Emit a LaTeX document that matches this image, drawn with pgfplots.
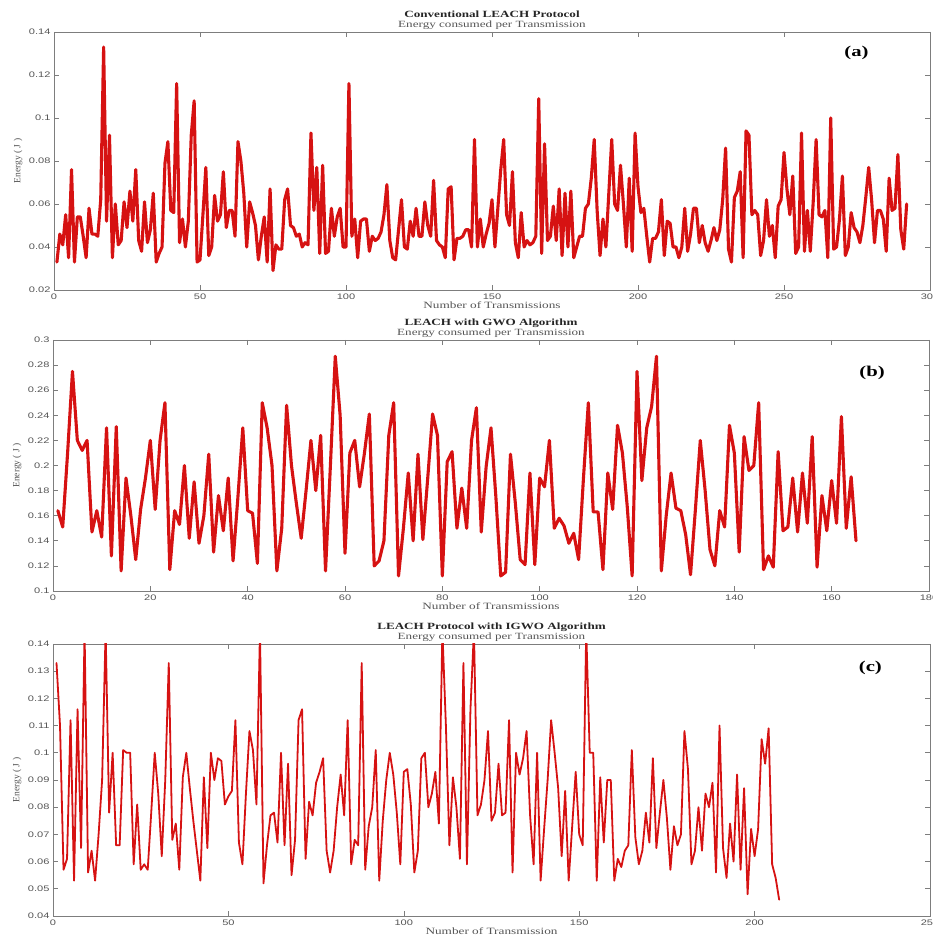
\documentclass[border=0pt]{standalone}
\usepackage{pgfplots}
\pgfplotsset{compat=1.18}
\usepackage{fontspec}
\setmainfont[FakeStretch=1.38]{Liberation Serif}
\newfontfamily\ticksf[FakeStretch=1.38]{Liberation Sans}
\newfontfamily\ylabfont{Liberation Serif}
\definecolor{matred}{RGB}{214,18,18}
\definecolor{axgray}{RGB}{125,125,125}
\definecolor{labgray}{RGB}{85,85,85}
\pgfplotsset{
  panel/.style={
    scale only axis,
    anchor=south west,
    axis line style={axgray, line width=0.7pt},
    tick style={axgray, line width=0.6pt},
    major tick length=5pt,
    tick align=inside,
    /pgf/number format/assume math mode=true,
    ticklabel style={font=\ticksf\fontsize{8}{9}\selectfont, text=labgray},
    xticklabel style={yshift=-0.5pt},
    scaled y ticks=false,
    yticklabel style={/pgf/number format/fixed, /pgf/number format/precision=2},
    title style={at={(0.5,1)}, anchor=south, align=center, yshift=-5pt, inner sep=1pt,
                 font=\fontsize{9.5}{10.5}\selectfont, text=black!85},
    xlabel style={at={(axis description cs:0.5,0)}, anchor=center, yshift=-15pt, inner sep=0pt,
                  font=\fontsize{9.6}{11}\selectfont, text=labgray},
    ylabel style={at={(axis description cs:-0.041,0.5)}, anchor=center, inner sep=0pt,
                  font=\ylabfont\fontsize{9.5}{10}\selectfont, text=labgray},
    ylabel={Energy ( J )},
  },
  series/.style={matred, line join=round, line cap=round, mark=none},
}
\begin{document}
\begin{tikzpicture}
\useasboundingbox (0,0) rectangle (933pt,939pt);
% ---------------- (a)
\begin{axis}[panel, at={(54pt,649pt)}, width=876pt, height=258pt,
  xmin=0, xmax=300, ymin=0.02, ymax=0.14,
  xtick={0,50,...,300}, ytick={0.02,0.04,...,0.141},
  title={\textbf{Conventional LEACH Protocol}\\{\color{labgray}Energy consumed per Transmission}},
  xlabel={Number of Transmissions}]
\addplot[series, line width=3.1pt] coordinates {
(1,0.033)(2,0.046)(3,0.041)(4,0.055)(5,0.035)(6,0.076)(7,0.033)(8,0.054)(9,0.054)(10,0.045)
(11,0.035)(12,0.058)(13,0.046)(14,0.046)(15,0.045)(16,0.062)(17,0.133)(18,0.052)(19,0.092)(20,0.035)
(21,0.060)(22,0.041)(23,0.043)(24,0.061)(25,0.049)(26,0.066)(27,0.052)(28,0.076)(29,0.043)(30,0.038)
(31,0.061)(32,0.042)(33,0.048)(34,0.065)(35,0.033)(36,0.037)(37,0.040)(38,0.079)(39,0.089)(40,0.057)
(41,0.056)(42,0.116)(43,0.042)(44,0.053)(45,0.040)(46,0.052)(47,0.092)(48,0.108)(49,0.033)(50,0.034)
(51,0.055)(52,0.077)(53,0.036)(54,0.040)(55,0.064)(56,0.052)(57,0.055)(58,0.075)(59,0.049)(60,0.057)
(61,0.057)(62,0.045)(63,0.089)(64,0.080)(65,0.065)(66,0.040)(67,0.061)(68,0.056)(69,0.050)(70,0.034)
(71,0.045)(72,0.054)(73,0.033)(74,0.067)(75,0.029)(76,0.041)(77,0.039)(78,0.039)(79,0.062)(80,0.067)
(81,0.050)(82,0.049)(83,0.045)(84,0.046)(85,0.040)(86,0.042)(87,0.041)(88,0.093)(89,0.057)(90,0.077)
(91,0.037)(92,0.078)(93,0.037)(94,0.038)(95,0.058)(96,0.045)(97,0.054)(98,0.058)(99,0.040)(100,0.040)
(101,0.116)(102,0.045)(103,0.053)(104,0.035)(105,0.052)(106,0.053)(107,0.053)(108,0.038)(109,0.045)(110,0.043)
(111,0.044)(112,0.047)(113,0.055)(114,0.069)(115,0.043)(116,0.035)(117,0.034)(118,0.048)(119,0.062)(120,0.040)
(121,0.039)(122,0.052)(123,0.045)(124,0.058)(125,0.045)(126,0.045)(127,0.061)(128,0.050)(129,0.045)(130,0.071)
(131,0.043)(132,0.041)(133,0.040)(134,0.035)(135,0.067)(136,0.068)(137,0.034)(138,0.044)(139,0.044)(140,0.045)
(141,0.048)(142,0.048)(143,0.040)(144,0.090)(145,0.040)(146,0.053)(147,0.040)(148,0.046)(149,0.051)(150,0.062)
(151,0.040)(152,0.058)(153,0.076)(154,0.090)(155,0.055)(156,0.050)(157,0.075)(158,0.042)(159,0.035)(160,0.056)
(161,0.040)(162,0.043)(163,0.041)(164,0.042)(165,0.045)(166,0.109)(167,0.037)(168,0.088)(169,0.043)(170,0.045)
(171,0.059)(172,0.043)(173,0.067)(174,0.036)(175,0.065)(176,0.040)(177,0.066)(178,0.035)(179,0.040)(180,0.045)
(181,0.045)(182,0.058)(183,0.060)(184,0.072)(185,0.090)(186,0.057)(187,0.036)(188,0.053)(189,0.040)(190,0.065)
(191,0.090)(192,0.060)(193,0.057)(194,0.078)(195,0.060)(196,0.040)(197,0.072)(198,0.038)(199,0.093)(200,0.068)
(201,0.056)(202,0.058)(203,0.045)(204,0.033)(205,0.044)(206,0.044)(207,0.047)(208,0.062)(209,0.036)(210,0.052)
(211,0.051)(212,0.040)(213,0.040)(214,0.035)(215,0.040)(216,0.058)(217,0.038)(218,0.046)(219,0.058)(220,0.058)
(221,0.042)(222,0.050)(223,0.042)(224,0.038)(225,0.043)(226,0.049)(227,0.043)(228,0.048)(229,0.062)(230,0.086)
(231,0.039)(232,0.033)(233,0.063)(234,0.066)(235,0.075)(236,0.035)(237,0.094)(238,0.092)(239,0.055)(240,0.057)
(241,0.055)(242,0.036)(243,0.043)(244,0.062)(245,0.045)(246,0.050)(247,0.035)(248,0.059)(249,0.062)(250,0.084)
(251,0.067)(252,0.055)(253,0.073)(254,0.037)(255,0.040)(256,0.093)(257,0.038)(258,0.057)(259,0.038)(260,0.061)
(261,0.090)(262,0.055)(263,0.054)(264,0.057)(265,0.035)(266,0.100)(267,0.039)(268,0.040)(269,0.053)(270,0.073)
(271,0.036)(272,0.040)(273,0.056)(274,0.049)(275,0.047)(276,0.042)(277,0.050)(278,0.063)(279,0.077)(280,0.062)
(281,0.042)(282,0.057)(283,0.057)(284,0.053)(285,0.038)(286,0.072)(287,0.057)(288,0.058)(289,0.083)(290,0.048)
(291,0.039)(292,0.060)
};
\node[font=\bfseries\fontsize{15}{15}\selectfont] at (rel axis cs:0.916,0.919) {(a)};
\end{axis}
% ---------------- (b)
\begin{axis}[panel, at={(53pt,348pt)}, width=876pt, height=251pt,
  xmin=0, xmax=180, ymin=0.1, ymax=0.3,
  xtick={0,20,...,180}, ytick={0.1,0.12,...,0.301},
  title={\textbf{LEACH with GWO Algorithm}\\{\color{labgray}Energy consumed per Transmission}},
  xlabel={Number of Transmissions}]
\addplot[series, line width=3.1pt] coordinates {
(1,0.164)(2,0.151)(3,0.21)(4,0.275)(5,0.22)(6,0.212)(7,0.22)(8,0.147)(9,0.164)(10,0.143)
(11,0.23)(12,0.128)(13,0.231)(14,0.116)(15,0.19)(16,0.16)(17,0.125)(18,0.165)(19,0.19)(20,0.22)
(21,0.165)(22,0.22)(23,0.25)(24,0.117)(25,0.164)(26,0.153)(27,0.2)(28,0.142)(29,0.187)(30,0.138)
(31,0.16)(32,0.209)(33,0.131)(34,0.176)(35,0.148)(36,0.19)(37,0.124)(38,0.175)(39,0.23)(40,0.164)
(41,0.162)(42,0.122)(43,0.25)(44,0.23)(45,0.2)(46,0.116)(47,0.15)(48,0.248)(49,0.2)(50,0.17)
(51,0.142)(52,0.18)(53,0.22)(54,0.18)(55,0.224)(56,0.116)(57,0.2)(58,0.287)(59,0.24)(60,0.13)
(61,0.21)(62,0.22)(63,0.183)(64,0.21)(65,0.241)(66,0.12)(67,0.124)(68,0.14)(69,0.224)(70,0.25)
(71,0.112)(72,0.15)(73,0.194)(74,0.14)(75,0.209)(76,0.141)(77,0.19)(78,0.241)(79,0.224)(80,0.112)
(81,0.203)(82,0.211)(83,0.15)(84,0.182)(85,0.15)(86,0.22)(87,0.246)(88,0.147)(89,0.199)(90,0.23)
(91,0.175)(92,0.112)(93,0.115)(94,0.209)(95,0.17)(96,0.125)(97,0.121)(98,0.194)(99,0.121)(100,0.19)
(101,0.183)(102,0.22)(103,0.15)(104,0.158)(105,0.152)(106,0.138)(107,0.146)(108,0.125)(109,0.19)(110,0.25)
(111,0.163)(112,0.163)(113,0.117)(114,0.194)(115,0.165)(116,0.232)(117,0.21)(118,0.167)(119,0.112)(120,0.275)
(121,0.188)(122,0.23)(123,0.247)(124,0.287)(125,0.116)(126,0.16)(127,0.194)(128,0.166)(129,0.164)(130,0.145)
(131,0.113)(132,0.165)(133,0.22)(134,0.18)(135,0.133)(136,0.12)(137,0.164)(138,0.151)(139,0.232)(140,0.21)
(141,0.131)(142,0.223)(143,0.196)(144,0.2)(145,0.25)(146,0.117)(147,0.128)(148,0.119)(149,0.211)(150,0.148)
(151,0.151)(152,0.19)(153,0.147)(154,0.194)(155,0.154)(156,0.223)(157,0.119)(158,0.176)(159,0.148)(160,0.188)
(161,0.154)(162,0.239)(163,0.15)(164,0.191)(165,0.14)
};
\node[font=\bfseries\fontsize{15}{15}\selectfont] at (rel axis cs:0.935,0.869) {(b)};
\end{axis}
% ---------------- (c)
\begin{axis}[panel, at={(53pt,23pt)}, width=877pt, height=272pt,
  xmin=0, xmax=250, ymin=0.04, ymax=0.14,
  xtick={0,50,...,250}, ytick={0.04,0.05,...,0.141},
  title={\textbf{LEACH Protocol with IGWO Algorithm}\\{\color{labgray}Energy consumed per Transmission}},
  xlabel={Number of Transmission}]
\addplot[series, line width=1.8pt] coordinates {
(1,0.133)(2,0.11)(3,0.057)(4,0.061)(5,0.112)(6,0.053)(7,0.116)(8,0.065)(9,0.145)(10,0.056)
(11,0.064)(12,0.053)(13,0.07)(14,0.09)(15,0.145)(16,0.078)(17,0.10)(18,0.066)(19,0.066)(20,0.101)
(21,0.1)(22,0.1)(23,0.059)(24,0.081)(25,0.057)(26,0.059)(27,0.057)(28,0.078)(29,0.1)(30,0.085)
(31,0.062)(32,0.09)(33,0.133)(34,0.068)(35,0.074)(36,0.057)(37,0.091)(38,0.1)(39,0.087)(40,0.075)
(41,0.064)(42,0.053)(43,0.091)(44,0.065)(45,0.1)(46,0.09)(47,0.098)(48,0.097)(49,0.081)(50,0.084)
(51,0.086)(52,0.112)(53,0.067)(54,0.059)(55,0.085)(56,0.108)(57,0.101)(58,0.081)(59,0.145)(60,0.052)
(61,0.066)(62,0.077)(63,0.078)(64,0.067)(65,0.1)(66,0.066)(67,0.096)(68,0.055)(69,0.068)(70,0.112)
(71,0.116)(72,0.061)(73,0.082)(74,0.077)(75,0.089)(76,0.093)(77,0.098)(78,0.064)(79,0.056)(80,0.064)
(81,0.08)(82,0.092)(83,0.077)(84,0.112)(85,0.059)(86,0.068)(87,0.066)(88,0.133)(89,0.057)(90,0.073)
(91,0.08)(92,0.101)(93,0.053)(94,0.075)(95,0.09)(96,0.1)(97,0.092)(98,0.078)(99,0.059)(100,0.093)
(101,0.094)(102,0.081)(103,0.056)(104,0.064)(105,0.098)(106,0.1)(107,0.08)(108,0.085)(109,0.093)(110,0.074)
(111,0.145)(112,0.11)(113,0.066)(114,0.091)(115,0.08)(116,0.061)(117,0.133)(118,0.059)(119,0.116)(120,0.145)
(121,0.077)(122,0.081)(123,0.09)(124,0.108)(125,0.075)(126,0.078)(127,0.096)(128,0.077)(129,0.078)(130,0.112)
(131,0.056)(132,0.1)(133,0.092)(134,0.098)(135,0.108)(136,0.077)(137,0.059)(138,0.1)(139,0.053)(140,0.072)
(141,0.09)(142,0.112)(143,0.1)(144,0.087)(145,0.062)(146,0.086)(147,0.053)(148,0.073)(149,0.093)(150,0.07)
(151,0.066)(152,0.145)(153,0.1)(154,0.1)(155,0.053)(156,0.091)(157,0.067)(158,0.09)(159,0.09)(160,0.053)
(161,0.061)(162,0.058)(163,0.064)(164,0.066)(165,0.101)(166,0.069)(167,0.059)(168,0.064)(169,0.078)(170,0.067)
(171,0.098)(172,0.065)(173,0.078)(174,0.09)(175,0.076)(176,0.057)(177,0.073)(178,0.066)(179,0.07)(180,0.108)
(181,0.094)(182,0.059)(183,0.064)(184,0.08)(185,0.064)(186,0.085)(187,0.08)(188,0.089)(189,0.056)(190,0.11)
(191,0.065)(192,0.054)(193,0.074)(194,0.06)(195,0.092)(196,0.057)(197,0.087)(198,0.048)(199,0.072)(200,0.062)
(201,0.072)(202,0.105)(203,0.096)(204,0.109)(205,0.059)(206,0.054)(207,0.046)
};
\node[font=\bfseries\fontsize{15}{15}\selectfont] at (rel axis cs:0.932,0.912) {(c)};
\end{axis}
\end{tikzpicture}
\end{document}
